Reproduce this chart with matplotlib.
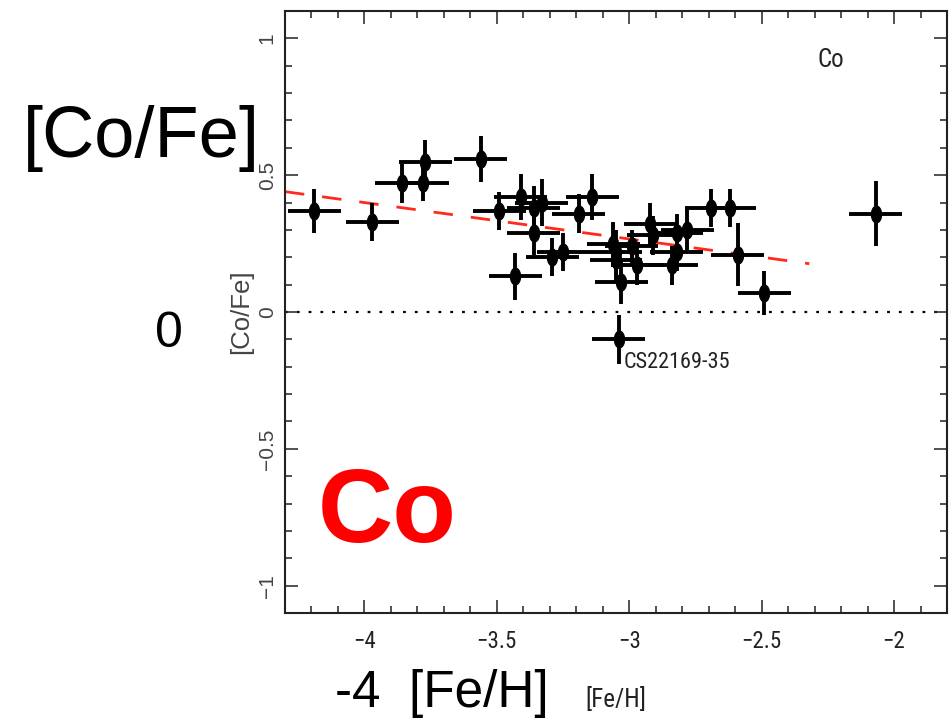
import numpy as np
import matplotlib
matplotlib.use('Agg')
import matplotlib.pyplot as plt
from matplotlib import font_manager as fm
from matplotlib.path import Path
from matplotlib.ticker import MultipleLocator

plt.rcParams['lines.scale_dashes'] = False

# [Fe/H], [Co/Fe] and their errors for each star
feh = [-4.19, -3.97, -3.86, -3.78, -3.77, -3.56, -3.49, -3.43, -3.41, -3.36,
       -3.33, -3.36, -3.29, -3.25, -3.19, -3.14, -3.06, -3.05, -3.05, -3.03,
       -3.04, -2.99, -2.97, -2.92, -2.91, -2.84, -2.82, -2.82, -2.78, -2.69,
       -2.62, -2.59, -2.49, -2.07]
cofe = [0.37, 0.33, 0.47, 0.47, 0.55, 0.56, 0.37, 0.13, 0.42, 0.38,
        0.40, 0.29, 0.20, 0.22, 0.36, 0.42, 0.25, 0.22, 0.19, 0.11,
        -0.10, 0.24, 0.17, 0.32, 0.28, 0.17, 0.22, 0.29, 0.30, 0.38,
        0.38, 0.21, 0.07, 0.36]
feh_err = [0.1] * len(feh)
cofe_err = [0.08, 0.07, 0.07, 0.065, 0.08, 0.085, 0.07, 0.085, 0.085, 0.08,
            0.085, 0.08, 0.07, 0.07, 0.07, 0.085, 0.08, 0.08, 0.08, 0.08,
            0.09, 0.06, 0.07, 0.08, 0.07, 0.07, 0.07, 0.07, 0.08, 0.07,
            0.07, 0.115, 0.08, 0.12]

# linear trend [Co/Fe] = a + b [Fe/H]
fit_intercept = -0.132
fit_slope = -0.133
fit_range = [-4.3, -2.32]

label_star = 'CS22169-35'
label_star_pos = (-3.02, -0.205)

xticks = [-4, -3.5, -3, -2.5, -2]
xticklabels = ['\u22124', '\u22123.5', '\u22123', '\u22122.5', '\u22122']
yticks = [-1, -0.5, 0, 0.5, 1]
yticklabels = ['\u22121', '\u22120.5', '0', '0.5', '1']

# pick a condensed face for the axis annotations if one is installed
names = {f.name for f in fm.fontManager.ttflist}
narrow_font = dict(family=['Liberation Sans', 'DejaVu Sans'])
shrink = 0.9
for cand in ['Liberation Sans Narrow', 'Arial Narrow', 'Roboto Condensed',
             'Open Sans Condensed', 'DejaVu Sans Condensed',
             'Noto Sans Condensed']:
    if cand in names:
        narrow_font = dict(family=[cand, 'DejaVu Sans'])
        shrink = 1.0
        break
else:
    cond = [f for f in fm.fontManager.ttflist
            if 'condensed' in str(f.stretch) and f.style == 'normal'
            and f.weight in (400, 'normal', 'regular')]
    if cond:
        narrow_font = dict(family=[cond[0].name], stretch=cond[0].stretch)
        shrink = 1.0
sans = ['Liberation Sans', 'DejaVu Sans']
ink = '#222222'

fig = plt.figure(figsize=(9.49, 7.2), dpi=100)
ax = fig.add_axes([0.3003, 0.1486, 0.6976, 0.8361])

t = np.linspace(0, 2 * np.pi, 60)
dot = Path(np.column_stack([0.6 * np.cos(t), np.sin(t)]))

ax.axhline(0, color='black', lw=1.6, ls=(0, (2, 6.5)), zorder=1)
xs = np.array(fit_range)
ax.plot(xs, fit_intercept + fit_slope * xs, color='#ff2a1a', lw=2.0,
        ls=(0, (14, 13)), zorder=2)
ax.errorbar(feh, cofe, xerr=feh_err, yerr=cofe_err, fmt='none',
            ecolor='black', elinewidth=2.8, capsize=0, zorder=3)
ax.plot(feh, cofe, linestyle='none', marker=dot, ms=12, color='black',
        zorder=4)

ax.text(label_star_pos[0], label_star_pos[1], label_star, fontsize=16 * shrink,
        ha='left', va='baseline', color=ink, **narrow_font)
ax.text(-2.29, 0.896, 'Co', fontsize=18 * shrink, ha='left',
        va='baseline', color=ink, **narrow_font)

ax.set_xlim(-4.3, -1.8)
ax.set_ylim(-1.1, 1.1)
ax.set_xticks(xticks)
ax.set_xticklabels(xticklabels, fontsize=16.5 * shrink, color=ink,
                   **narrow_font)
ax.set_yticks(yticks)
ax.set_yticklabels(yticklabels, family=sans, fontsize=15, color='#444444',
                   rotation=90, va='center')
ax.xaxis.set_minor_locator(MultipleLocator(0.1))
ax.yaxis.set_minor_locator(MultipleLocator(0.1))
ax.tick_params(which='both', direction='in', top=True, right=True,
               width=1.1, color=ink)
ax.tick_params(which='major', length=9.5)
ax.tick_params(which='minor', length=5)
ax.tick_params(axis='x', pad=12)
ax.tick_params(axis='y', pad=6)
for s in ax.spines.values():
    s.set_linewidth(1.5)
    s.set_color(ink)

ax.set_xlabel('[Fe/H]', fontsize=18 * shrink, color=ink, labelpad=25,
              **narrow_font)
ax.set_ylabel('[Co/Fe]', family=sans, fontsize=18.5, color='#444444',
              labelpad=3)

# large overlay labels
fig.text(23 / 949, 1 - 157 / 720, '[Co/Fe]', family=sans, fontsize=52,
         ha='left', va='baseline', color='black')
fig.text(169 / 949, 1 - 347 / 720, '0', family=sans, fontsize=36,
         ha='center', va='baseline', color='black')
fig.text(335 / 949, 1 - 707 / 720, '-4  [Fe/H]', family=sans, fontsize=37,
         ha='left', va='baseline', color='black')
fig.text(318 / 949, 1 - 542 / 720, 'Co', family=sans, fontsize=75,
         weight='bold', ha='left', va='baseline', color='#ff0000')

fig.savefig('out.png', dpi=100)
